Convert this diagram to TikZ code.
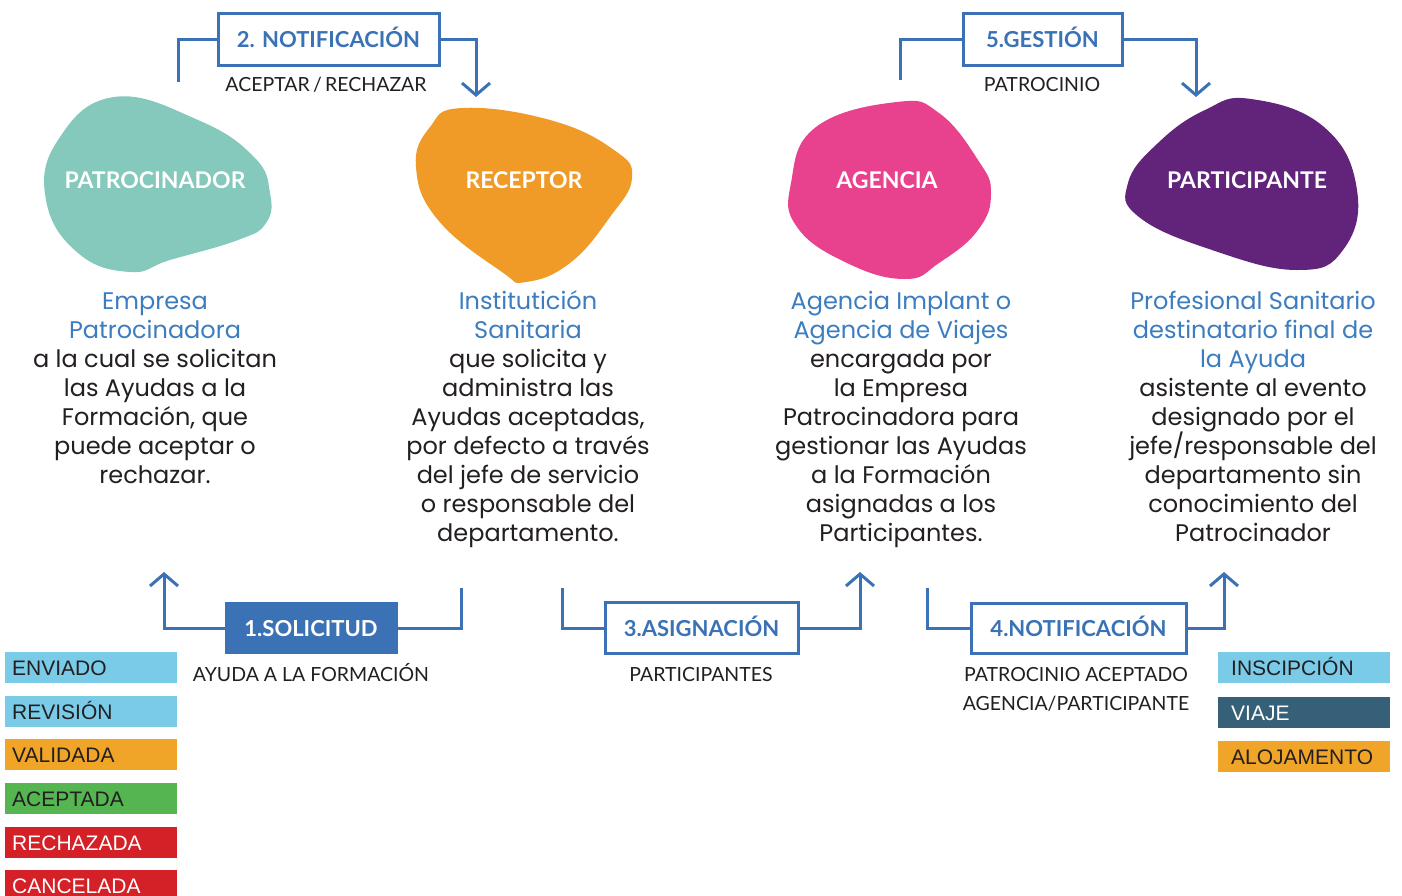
\documentclass[tikz,border=0pt]{standalone}
\usepackage{fontspec}
\setmainfont{Lato}
\newfontfamily\legendfont{Liberation Sans}
\newfontfamily\descfont{Poppins}
\usetikzlibrary{arrows.meta}
\definecolor{flowblue}{HTML}{3A72B5}
\definecolor{descblue}{HTML}{3C7DC0}
\definecolor{ink}{HTML}{231F20}
\definecolor{blobteal}{HTML}{84C9BB}
\definecolor{bloborange}{HTML}{F09B28}
\definecolor{blobpink}{HTML}{E8418E}
\definecolor{blobpurple}{HTML}{62237B}
\definecolor{lgblue}{HTML}{7ACBE8}
\definecolor{lgorange}{HTML}{F0A428}
\definecolor{lggreen}{HTML}{55B551}
\definecolor{lgred}{HTML}{D42027}
\definecolor{lgdark}{HTML}{366078}
\tikzset{
  flowline/.style={draw=flowblue, line width=3pt, line join=miter},
  flowarrow/.style={flowline, -{Straight Barb[length=12pt,width=28pt,line width=3pt]}},
  stepframe/.style={draw=flowblue, line width=3pt, fill=white, text=flowblue, inner sep=0pt,
    text height=16pt, text depth=0pt, font=\bfseries\fontsize{22}{24}\selectfont},
  stepfilled/.style={stepframe, fill=flowblue, text=white},
  steplabel/.style={text=ink, inner sep=0pt, anchor=base, font=\fontsize{19.5}{22}\selectfont},
  blobtitle/.style={text=white, inner sep=0pt, text height=16.5pt, text depth=0pt,
    font=\bfseries\fontsize{23}{26}\selectfont},
  desc/.style={inner sep=0pt, anchor=base, font=\descfont\fontsize{24}{29}\selectfont},
  legendbox/.style={anchor=north west, minimum height=31pt, text width=158pt, inner xsep=7pt, inner ysep=0pt,
    text height=15pt, text depth=0pt,
    align=left, font=\legendfont\fontsize{21}{24}\selectfont, text=ink},
}
\begin{document}
\begin{tikzpicture}[x=1pt,y=-1pt]
\clip (0,0) rectangle (1402,895);
\fill[white] (0,0) rectangle (1402,895);

% blobs
\fill[blobteal] plot[smooth cycle, tension=0.75] coordinates {(114,97) (198,120) (254,157) (270,193) (266,223) (238,240) (170,260) (130,272) (78,253) (46,200) (58,140)};
\fill[bloborange] plot[smooth cycle, tension=0.75] coordinates {(462,108) (550,120) (614,150) (632,178) (610,217) (570,263) (526,282) (502,272) (438,220) (416,167) (430,127)};
\fill[blobpink] plot[smooth cycle, tension=0.75] coordinates {(897,102) (939,113) (978,160) (991,193) (978,230) (939,263) (905,279) (847,263) (797,227) (791,183) (816,127)};
\fill[blobpurple] plot[smooth cycle, tension=0.75] coordinates {(1251,99) (1324,127) (1357,190) (1343,250) (1297,270) (1212,250) (1139,217) (1128,183) (1158,143) (1205,110)};

\node[blobtitle] (patro) at (155,180) {PATROCINADOR};
\node[blobtitle] (recep) at (524,180) {RECEPTOR};
\node[blobtitle] (agen) at (887,180) {AGENCIA};
\node[blobtitle] (parti) at (1247,180) {PARTICIPANTE};

% top steps
\node[stepframe, minimum width=221pt, minimum height=52pt] (s2) at (328.5,39) {2. NOTIFICACIÓN};
\node[steplabel] (s2l) at (326,91) {ACEPTAR\,/\,RECHAZAR};
\coordinate (s2a) at (178,82);
\coordinate (s2b) at (476,97);
\draw[flowline] (s2a) |- (s2.west);
\draw[flowarrow] (s2.east) -| (s2b);

\node[stepframe, minimum width=159pt, minimum height=52pt] (s5) at (1042.5,39) {5.GESTIÓN};
\node[steplabel] (s5l) at (1042,91) {PATROCINIO};
\coordinate (s5a) at (900,80);
\coordinate (s5b) at (1196,97);
\draw[flowline] (s5a) |- (s5.west);
\draw[flowarrow] (s5.east) -| (s5b);

% bottom steps
\node[stepfilled, minimum width=170pt, minimum height=49pt] (s1) at (311,628) {1.SOLICITUD};
\node[steplabel] (s1l) at (311,681) {AYUDA A LA FORMACIÓN};
\coordinate (s1a) at (461,588);
\coordinate (s1b) at (164,572);
\draw[flowline] (s1a) |- (s1.east);
\draw[flowarrow] (s1.west) -| (s1b);

\node[stepframe, minimum width=193pt, minimum height=51pt] (s3) at (701.5,628) {3.ASIGNACIÓN};
\node[steplabel] (s3l) at (701,681) {PARTICIPANTES};
\coordinate (s3a) at (562,588);
\coordinate (s3b) at (860,572);
\draw[flowline] (s3a) |- (s3.west);
\draw[flowarrow] (s3.east) -| (s3b);

\node[stepframe, minimum width=215pt, minimum height=50pt] (s4) at (1078.5,628) {4.NOTIFICACIÓN};
\node[steplabel] (s4l) at (1076,681) {PATROCINIO ACEPTADO};
\node[steplabel] (s4m) at (1076,710) {AGENCIA/PARTICIPANTE};
\coordinate (s4a) at (927,588);
\coordinate (s4b) at (1224,572);
\draw[flowline] (s4a) |- (s4.west);
\draw[flowarrow] (s4.east) -| (s4b);

% descriptions
\foreach \t [count=\i] in {Empresa, Patrocinadora, a la cual se solicitan, las Ayudas a la, {Formación, que}, puede aceptar o, rechazar.}{
  \ifnum\i<3 \def\c{descblue}\else\def\c{ink}\fi
  \node[desc, text=\c] (da\i) at (155,{280+29*\i}) {\t};
}
\foreach \t [count=\i] in {Institutición, Sanitaria, que solicita y, administra las, {Ayudas aceptadas,}, por defecto a través, del jefe de servicio, o responsable del, departamento.}{
  \ifnum\i<3 \def\c{descblue}\else\def\c{ink}\fi
  \node[desc, text=\c] (db\i) at (528,{280+29*\i}) {\t};
}
\foreach \t [count=\i] in {Agencia Implant o, Agencia de Viajes, encargada por, la Empresa, Patrocinadora para, gestionar las Ayudas, a la Formación, asignadas a los, Participantes.}{
  \ifnum\i<3 \def\c{descblue}\else\def\c{ink}\fi
  \node[desc, text=\c] (dc\i) at (901,{280+29*\i}) {\t};
}
\foreach \t [count=\i] in {Profesional Sanitario, destinatario final de, la Ayuda, asistente al evento, designado por el, jefe/responsable del, departamento sin, conocimiento del, Patrocinador}{
  \ifnum\i<4 \def\c{descblue}\else\def\c{ink}\fi
  \node[desc, text=\c] (dd\i) at (1253,{280+29*\i}) {\t};
}

% legends
\node[legendbox, fill=lgblue] (le1) at (5,652) {ENVIADO};
\node[legendbox, fill=lgblue] (le2) at (5,696) {REVISIÓN};
\node[legendbox, fill=lgorange] (le3) at (5,739) {VALIDADA};
\node[legendbox, fill=lggreen] (le4) at (5,783) {ACEPTADA};
\node[legendbox, fill=lgred, text=white] (le5) at (5,827) {RECHAZADA};
\node[legendbox, fill=lgred, text=white] (le6) at (5,870) {CANCELADA};

\node[legendbox, fill=lgblue] (lr1) at (1218,652) {\hspace*{6pt}INSCIPCIÓN};
\node[legendbox, fill=lgdark, text=white] (lr2) at (1218,697) {\hspace*{6pt}VIAJE};
\node[legendbox, fill=lgorange] (lr3) at (1218,741) {\hspace*{6pt}ALOJAMENTO};
\end{tikzpicture}
\end{document}
